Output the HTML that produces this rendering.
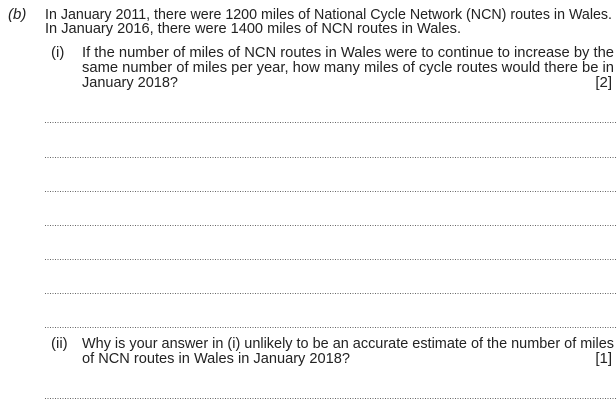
<!DOCTYPE html>
<html><head><meta charset="utf-8"><style>
html,body{margin:0;padding:0;background:#fff;width:616px;height:408px;overflow:hidden}
svg text{font-family:"Liberation Sans",Arial,sans-serif;font-size:15px;fill:#222}
</style></head><body>
<svg width="616" height="408">
<text x="8" y="19" font-style="italic">(b)</text>
<text x="45" y="19" textLength="567" lengthAdjust="spacingAndGlyphs">In January 2011, there were 1200 miles of National Cycle Network (NCN) routes in Wales.</text>
<text x="45" y="33" textLength="416" lengthAdjust="spacingAndGlyphs">In January 2016, there were 1400 miles of NCN routes in Wales.</text>
<text x="51" y="57">(i)</text>
<text x="82" y="57" textLength="532" lengthAdjust="spacingAndGlyphs">If the number of miles of NCN routes in Wales were to continue to increase by the</text>
<text x="82" y="72" textLength="532" lengthAdjust="spacingAndGlyphs">same number of miles per year, how many miles of cycle routes would there be in</text>
<text x="82" y="87" textLength="96" lengthAdjust="spacingAndGlyphs">January 2018?</text>
<text x="612" y="87" text-anchor="end">[2]</text>
<g stroke="#666" stroke-width="1" stroke-dasharray="1,1.5">
<line x1="45" x2="616" y1="122.5" y2="122.5"/>
<line x1="45" x2="616" y1="157.5" y2="157.5"/>
<line x1="45" x2="616" y1="191.5" y2="191.5"/>
<line x1="45" x2="616" y1="225.5" y2="225.5"/>
<line x1="45" x2="616" y1="259.5" y2="259.5"/>
<line x1="45" x2="616" y1="293.5" y2="293.5"/>
<line x1="45" x2="616" y1="327.5" y2="327.5"/>
<line x1="45" x2="616" y1="398.5" y2="398.5"/>
</g>
<text x="51" y="348">(ii)</text>
<text x="82" y="348" textLength="532" lengthAdjust="spacingAndGlyphs">Why is your answer in (i) unlikely to be an accurate estimate of the number of miles</text>
<text x="82" y="363" textLength="268" lengthAdjust="spacingAndGlyphs">of NCN routes in Wales in January 2018?</text>
<text x="612" y="363" text-anchor="end">[1]</text>
</svg>
</body></html>
